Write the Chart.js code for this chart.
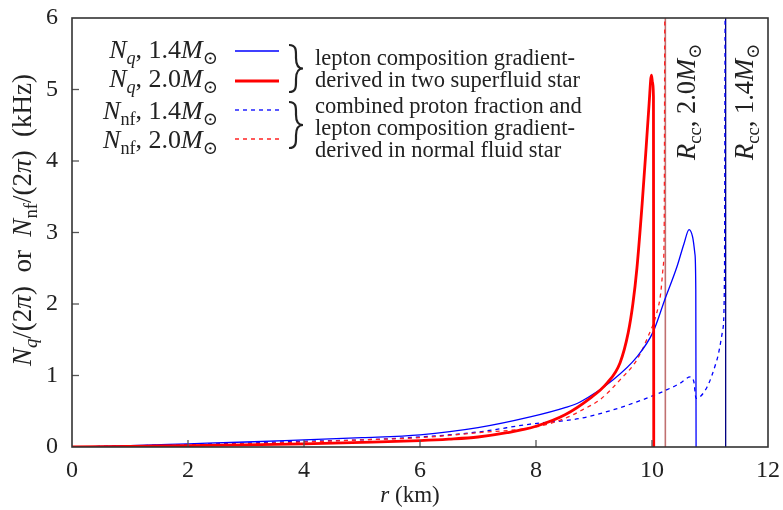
<!DOCTYPE html>
<html>
<head>
<meta charset="utf-8">
<script src="https://cdn.jsdelivr.net/npm/chart.js@4/dist/chart.umd.min.js"></script>
<style>
	html, body { margin: 0; padding: 0; background: #fff; }
	#wrap { width: 783px; height: 510px; }
</style>
</head>
<body>
<div id="wrap"><canvas id="chart" width="783" height="510"></canvas></div>
<script>
// N_q, 1.4 Msun (thin blue solid)
const rNq14 = [0, 1, 2, 3, 4, 5, 6, 7, 7.9, 8.5, 8.76, 9.33, 9.74, 10.02, 10.22, 10.43, 10.55, 10.64, 10.7, 10.74, 10.755, 10.76];
const vNq14 = [0, 0.02, 0.045, 0.07, 0.1, 0.13, 0.17, 0.27, 0.42, 0.55, 0.63, 0.94, 1.26, 1.61, 2.06, 2.52, 2.84, 3.04, 2.94, 2.7, 2.2, 0];

// N_q, 2.0 Msun (thick red solid)
const rNq20 = [0, 1, 2, 3, 4, 5, 6, 6.5, 7, 7.5, 8, 8.5, 8.93, 9.22, 9.45, 9.59, 9.67, 9.74, 9.83, 9.9, 9.95, 9.99, 10.01, 10.025, 10.03];
const vNq20 = [0, 0.01, 0.02, 0.03, 0.045, 0.065, 0.09, 0.11, 0.14, 0.2, 0.29, 0.45, 0.68, 0.89, 1.18, 1.6, 2.0, 2.5, 3.4, 4.2, 4.8, 5.2, 5.1, 4.9, 0];

// N_nf, 1.4 Msun (blue dashed)
const rNnf14 = [0, 1, 2, 3, 4, 5, 6, 7, 7.9, 8.76, 9.33, 9.9, 10.2, 10.48, 10.66, 10.72, 10.76, 10.95, 11.12, 11.22, 11.25, 11.26];
const vNnf14 = [0, 0.015, 0.035, 0.055, 0.08, 0.1, 0.14, 0.21, 0.32, 0.4, 0.52, 0.68, 0.78, 0.89, 0.98, 0.92, 0.68, 0.84, 1.22, 1.64, 2.4, 6];

// N_nf, 2.0 Msun (red dashed)
const rNnf20 = [0, 1, 2, 3, 4, 5, 6, 7, 8, 8.5, 8.8, 9.1, 9.45, 9.74, 9.93, 10.08, 10.15, 10.19, 10.21, 10.22];
const vNnf20 = [0, 0.015, 0.03, 0.045, 0.07, 0.1, 0.13, 0.2, 0.28, 0.4, 0.52, 0.66, 0.94, 1.22, 1.54, 1.87, 2.15, 2.5, 3.0, 6];

// crust-core radii
const rcc20 = 10.23;
const rcc14 = 11.27;

const xRange = [0, 12];
const yRange = [0, 6];
const xStep = 2;
const yStep = 1;

const serif = '"Liberation Serif", "DejaVu Serif", serif';

const toPoints = (xs, ys) => xs.map((x, i) => ({ x, y: ys[i] }));
const vline = (x) => toPoints([x, x], yRange);

// text made of pieces: italic and subscript parts
const drawRich = (ctx, segs, x, y, size, align) => {
	const parts = segs.map((s) => {
		const fs = s.sub ? size * 0.7 : size;
		const font = `${s.it ? 'italic ' : ''}${fs}px ${serif}`;
		ctx.font = font;
		return { ...s, font, w: ctx.measureText(s.t).width };
	});
	const total = parts.reduce((sum, p) => sum + p.w, 0);
	let cx = align === 'right' ? x - total : align === 'center' ? x - total / 2 : x;
	ctx.textBaseline = 'alphabetic';
	ctx.textAlign = 'left';
	parts.forEach((p) => {
		ctx.font = p.font;
		ctx.fillText(p.t, cx, y + (p.sub ? size * 0.22 : 0));
		cx += p.w;
	});
};

const drawBrace = (ctx, x, y0, y1, w) => {
	const mid = (y0 + y1) / 2;
	const h = mid - y0;
	ctx.beginPath();
	ctx.moveTo(x, y0);
	ctx.bezierCurveTo(x + w * 0.55, y0, x + w * 0.5, y0 + h * 0.25, x + w * 0.5, y0 + h * 0.55);
	ctx.bezierCurveTo(x + w * 0.5, mid - 3, x + w * 0.65, mid, x + w, mid);
	ctx.bezierCurveTo(x + w * 0.65, mid, x + w * 0.5, mid + 3, x + w * 0.5, y1 - h * 0.55);
	ctx.bezierCurveTo(x + w * 0.5, y1 - h * 0.25, x + w * 0.55, y1, x, y1);
	ctx.stroke();
};

const sun = (mass) => [{ t: `, ${mass}` }, { t: 'M', it: true }, { t: '⊙', sub: true }];
const legendRows = [
	{ label: [{ t: 'N', it: true }, { t: 'q', it: true, sub: true }, ...sun('1.4')], color: '#0000ff', width: 1.3, dash: [] },
	{ label: [{ t: 'N', it: true }, { t: 'q', it: true, sub: true }, ...sun('2.0')], color: '#ff0000', width: 2.8, dash: [] },
	{ label: [{ t: 'N', it: true }, { t: 'nf', sub: true }, ...sun('1.4')], color: '#0000ff', width: 1.3, dash: [4, 4] },
	{ label: [{ t: 'N', it: true }, { t: 'nf', sub: true }, ...sun('2.0')], color: '#ff0000', width: 1.3, dash: [4, 4] },
];
const legendNotes = [
	'lepton composition gradient-',
	'derived in two superfluid star',
	'combined proton fraction and',
	'lepton composition gradient-',
	'derived in normal fluid star',
];

const decorations = {
	id: 'decorations',
	afterDatasetsDraw(chart) {
		const { ctx, chartArea: a, scales: { x, y } } = chart;
		ctx.save();
		// inward ticks
		ctx.strokeStyle = '#555';
		ctx.lineWidth = 1.3;
		for (let v = xRange[0] + xStep; v < xRange[1]; v += xStep) {
			const px = x.getPixelForValue(v);
			ctx.beginPath();
			ctx.moveTo(px, a.bottom);
			ctx.lineTo(px, a.bottom - 7);
			ctx.stroke();
		}
		for (let v = yRange[0] + yStep; v < yRange[1]; v += yStep) {
			const py = y.getPixelForValue(v);
			ctx.beginPath();
			ctx.moveTo(a.left, py);
			ctx.lineTo(a.left + 7, py);
			ctx.stroke();
		}
		// frame
		ctx.strokeStyle = '#333';
		ctx.lineWidth = 1.6;
		ctx.strokeRect(a.left, a.top, a.right - a.left, a.bottom - a.top);

		ctx.fillStyle = '#222';
		// axis titles
		drawRich(ctx, [{ t: 'r', it: true }, { t: ' (km)' }], 410, 502, 23, 'center');
		ctx.save();
		ctx.translate(31, 220);
		ctx.rotate(-Math.PI / 2);
		drawRich(ctx, [
			{ t: 'N', it: true }, { t: 'q', it: true, sub: true }, { t: '/(2' }, { t: 'π', it: true }, { t: ')  or  ' },
			{ t: 'N', it: true }, { t: 'nf', sub: true }, { t: '/(2' }, { t: 'π', it: true }, { t: ')  (kHz)' },
		], 0, 0, 27, 'center');
		ctx.restore();

		// crust-core labels
		[['2.0', 695], ['1.4', 753]].forEach(([mass, bx]) => {
			ctx.save();
			ctx.translate(bx, 160);
			ctx.rotate(-Math.PI / 2);
			drawRich(ctx, [{ t: 'R', it: true }, { t: 'cc', sub: true }, ...sun(mass)], 0, 0, 26.5, 'left');
			ctx.restore();
		});

		// legend
		const rowBase = [58, 87, 119, 148];
		const rowLine = [51, 81, 110, 139];
		legendRows.forEach((row, i) => {
			ctx.fillStyle = '#222';
			drawRich(ctx, row.label, 218, rowBase[i], 26, 'right');
			ctx.strokeStyle = row.color;
			ctx.lineWidth = row.width;
			ctx.setLineDash(row.dash);
			ctx.beginPath();
			ctx.moveTo(235, rowLine[i]);
			ctx.lineTo(279, rowLine[i]);
			ctx.stroke();
		});
		ctx.setLineDash([]);
		ctx.strokeStyle = '#222';
		ctx.lineWidth = 2.2;
		drawBrace(ctx, 289, 45, 92, 14);
		drawBrace(ctx, 289, 102, 148, 14);
		const noteBase = [65, 87, 113, 135, 157];
		ctx.fillStyle = '#222';
		ctx.font = `22.5px ${serif}`;
		ctx.textAlign = 'left';
		ctx.textBaseline = 'alphabetic';
		legendNotes.forEach((note, i) => ctx.fillText(note, 315, noteBase[i]));
		ctx.restore();
	},
};

const line = (data, color, width, dash, order) => ({
	data,
	borderColor: color,
	borderWidth: width,
	borderDash: dash,
	showLine: true,
	pointRadius: 0,
	cubicInterpolationMode: 'monotone',
	fill: false,
	order,
});

const noPadding = (scale) => {
	scale.paddingTop = 0;
	scale.paddingBottom = 0;
	scale.paddingLeft = 0;
	scale.paddingRight = 0;
};

new Chart(document.getElementById('chart'), {
	type: 'scatter',
	data: {
		datasets: [
			line(toPoints(rNq20, vNq20), '#ff0000', 2.8, [], 1),
			line(toPoints(rNq14, vNq14), '#0000ff', 1.3, [], 2),
			line(toPoints(rNnf20, vNnf20), '#ff2020', 1.3, [4, 4], 3),
			line(toPoints(rNnf14, vNnf14), '#0000ff', 1.3, [4, 4], 4),
			line(vline(rcc20), '#c07070', 1.6, [], 5),
			line(vline(rcc14), '#000080', 1.3, [], 6),
		],
	},
	options: {
		responsive: false,
		animation: false,
		devicePixelRatio: 1,
		layout: { padding: { top: 18, right: 15, left: 0, bottom: 0 } },
		plugins: { legend: { display: false }, tooltip: { enabled: false } },
		scales: {
			x: {
				type: 'linear',
				min: xRange[0],
				max: xRange[1],
				grid: { display: false, drawTicks: false },
				border: { display: false },
				ticks: { stepSize: xStep, color: '#222', padding: 9, font: { family: serif, size: 24 } },
				afterFit: (scale) => { scale.height = 63; noPadding(scale); },
			},
			y: {
				min: yRange[0],
				max: yRange[1],
				grid: { display: false, drawTicks: false },
				border: { display: false },
				ticks: { stepSize: yStep, color: '#222', padding: 14, font: { family: serif, size: 24 } },
				afterFit: (scale) => { scale.width = 72; noPadding(scale); },
			},
		},
	},
	plugins: [decorations],
});
</script>
</body>
</html>
